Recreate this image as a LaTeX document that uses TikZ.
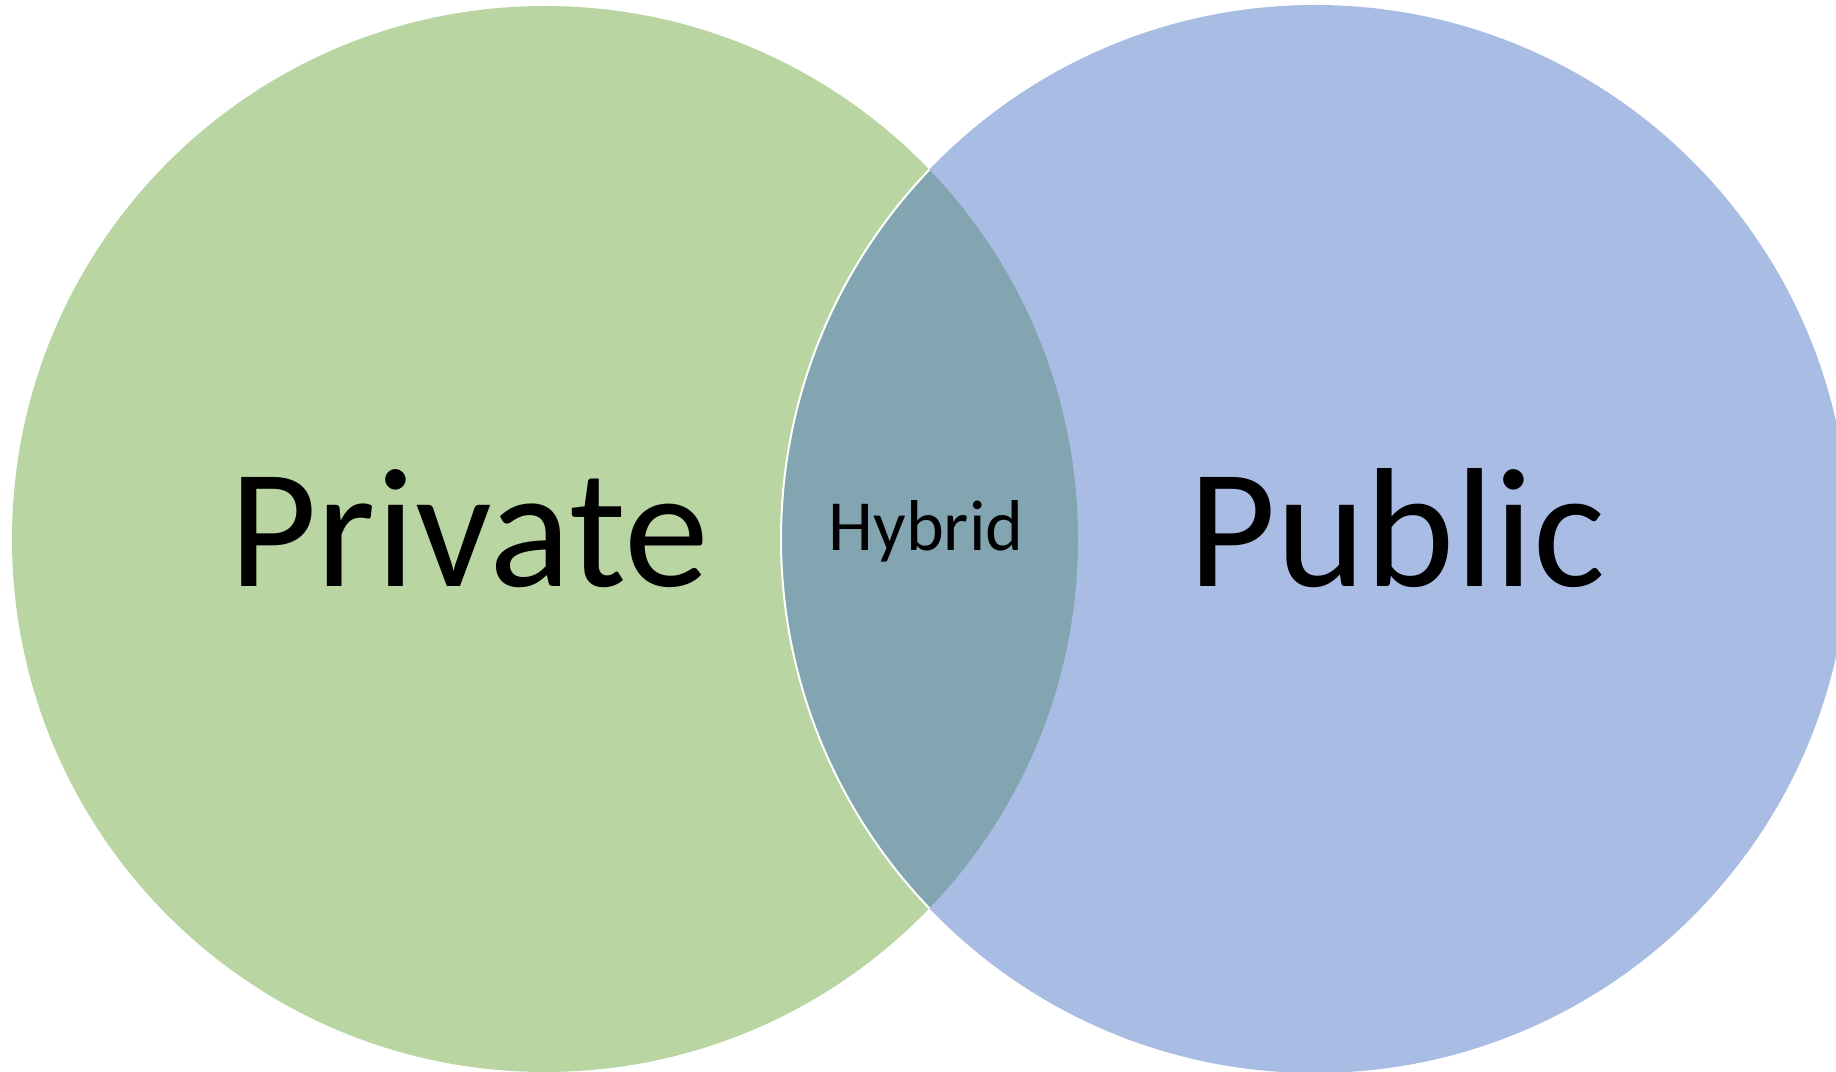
\documentclass[tikz,border=0pt]{standalone}
\usepackage{fontspec}
\setmainfont{Carlito}
\definecolor{privgreen}{HTML}{B8D5A2}
\definecolor{pubblue}{HTML}{A9BCE3}
\definecolor{hybteal}{HTML}{82A5B1}
\tikzset{
  biglabel/.style={font=\fontsize{170}{170}\selectfont, text=black, anchor=base, inner sep=0pt},
  smalllabel/.style={font=\fontsize{72}{72}\selectfont, text=black, anchor=base, inner sep=0pt}
}
\begin{document}
\begin{tikzpicture}[x=1pt,y=1pt]
\useasboundingbox (0,0) rectangle (1836,1071);
\clip (0,0) rectangle (1836,1071);
\coordinate (cl) at (545,532);
\coordinate (cr) at (1315,532);
\fill[privgreen] (cl) circle[radius=533];
\fill[pubblue] (cr) circle[radius=534];
\begin{scope}
  \clip (cl) circle[radius=533];
  \fill[hybteal] (cr) circle[radius=534];
  \draw[white, line width=2] (cr) circle[radius=534];
\end{scope}
\node[biglabel] (private) at (469,484) {Private};
\node[biglabel] (public) at (1397,484) {Public};
\node[smalllabel] (hybrid) at (926,520) {Hybrid};
\end{tikzpicture}
\end{document}
